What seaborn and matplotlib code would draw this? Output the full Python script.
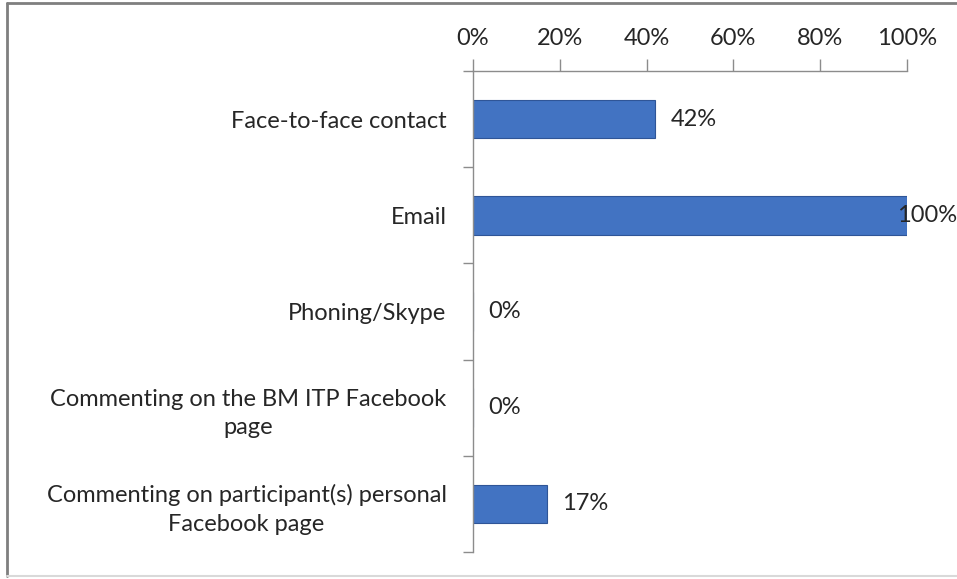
import numpy as np
import pandas as pd
import matplotlib
matplotlib.use("Agg")
import matplotlib.pyplot as plt
from matplotlib.lines import Line2D
from matplotlib.ticker import PercentFormatter
import seaborn as sns

categories = [
    "Face-to-face contact",
    "Email",
    "Phoning/Skype",
    "Commenting on the BM ITP Facebook\npage",
    "Commenting on participant(s) personal\nFacebook page",
]
values = [42, 100, 0, 0, 17]
x_ticks = [0, 20, 40, 60, 80, 100]

sns.set_theme(style="white")
plt.rcParams["font.family"] = ["Lato", "DejaVu Sans"]

text_color = "#262626"
axis_color = "#8c8c8c"
bar_color = "#4273c2"
fs = 17

df = pd.DataFrame({"method": categories, "share": values})

fig = plt.figure(figsize=(9.57, 5.79), dpi=100)
ax = fig.add_axes([473 / 957, 1 - 552 / 579, (907 - 473) / 957, (552 - 71) / 579])

sns.barplot(data=df, x="share", y="method", orient="h", color=bar_color,
            width=0.4, edgecolor="#2f5597", linewidth=0.8, saturation=1, ax=ax)

ax.set_xlim(0, 100)
ax.set_ylim(len(categories) - 0.5, -0.5)
ax.xaxis.tick_top()
ax.set_xticks(x_ticks)
ax.xaxis.set_major_formatter(PercentFormatter(decimals=0))
ax.tick_params(axis="x", which="major", direction="out", length=9, width=1,
               color=axis_color, pad=7, labelsize=fs, labelcolor=text_color)
ax.set_yticks(np.arange(len(categories)))
ax.set_yticklabels(categories)
ax.set_yticks(np.arange(-0.5, len(categories), 1), minor=True)
ax.tick_params(axis="y", which="major", length=0, pad=19, labelsize=fs,
               labelcolor=text_color)
ax.tick_params(axis="y", which="minor", direction="out", length=7, width=1,
               color=axis_color, left=True)
for lab in ax.get_yticklabels():
    lab.set_multialignment("center")
    lab.set_linespacing(1.45)

ax.set_xlabel("")
ax.set_ylabel("")
for side in ("bottom", "right"):
    ax.spines[side].set_visible(False)
for side in ("top", "left"):
    ax.spines[side].set_color(axis_color)
    ax.spines[side].set_linewidth(1)
ax.grid(False)

# value labels next to each bar; a full-length bar gets its label pulled inward
for i, v in enumerate(values):
    dx = -7 if v >= 95 else 11
    ax.annotate(f"{v}%", xy=(v, i), xytext=(dx, 0), textcoords="offset points",
                ha="left", va="center", fontsize=fs, color=text_color,
                annotation_clip=False)

# chart frame
fig.add_artist(Line2D([7 / 957, 7 / 957], [1 - 3 / 579, 1 - 576 / 579],
                      transform=fig.transFigure, color="#7f7f7f", lw=2))
fig.add_artist(Line2D([7 / 957, 1], [1 - 3 / 579, 1 - 3 / 579],
                      transform=fig.transFigure, color="#7f7f7f", lw=2))
fig.add_artist(Line2D([7 / 957, 1], [1 - 576 / 579, 1 - 576 / 579],
                      transform=fig.transFigure, color="#d9d9d9", lw=1.5))

fig.savefig("out.png", dpi=100)
